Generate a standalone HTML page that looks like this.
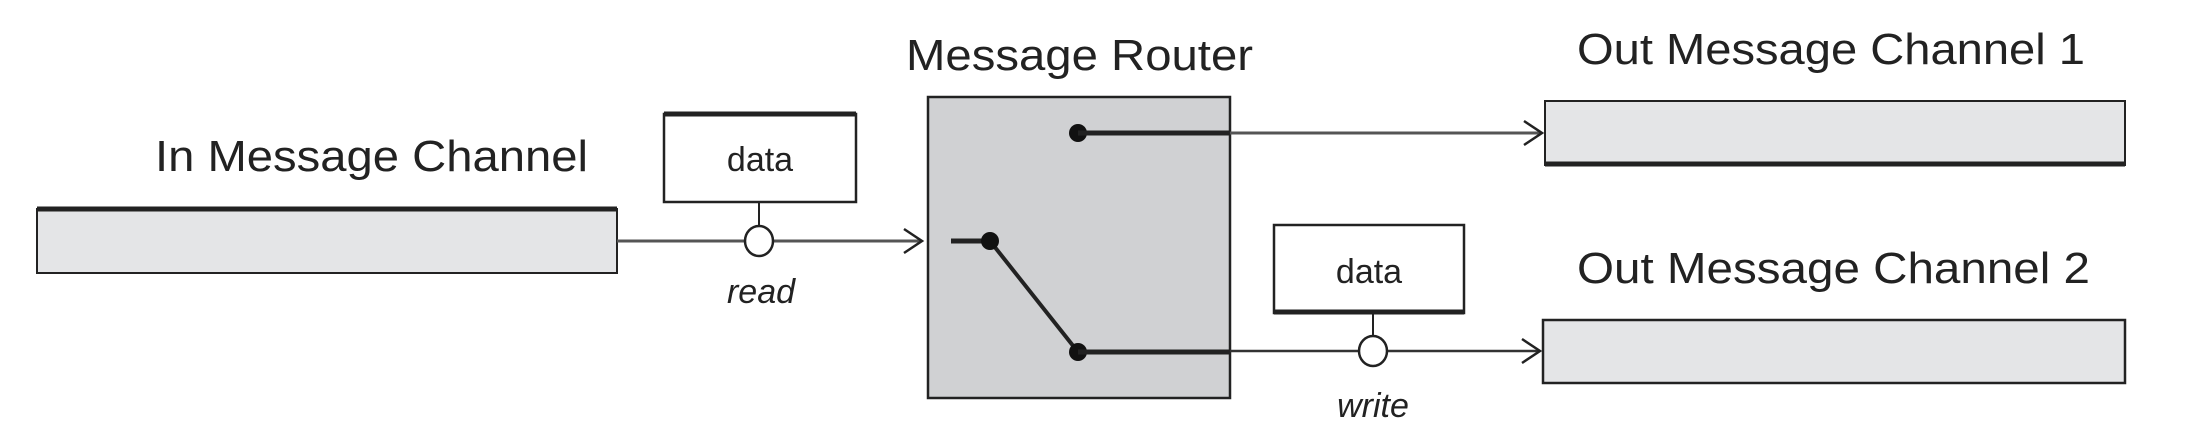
<!DOCTYPE html>
<html><head><meta charset="utf-8"><style>html,body{margin:0;padding:0;background:#fff}svg{display:block}</style></head>
<body>
<svg width="2210" height="440" viewBox="0 0 2210 440" xmlns="http://www.w3.org/2000/svg" font-family="Liberation Sans, sans-serif" fill="#222">
<!-- In channel -->
<rect x="37" y="209" width="580" height="64" fill="#e4e5e7" stroke="#222" stroke-width="2"/>
<line x1="37" y1="209" x2="617" y2="209" stroke="#222" stroke-width="5"/>
<text x="155" y="171" font-size="44" textLength="433" lengthAdjust="spacingAndGlyphs">In Message Channel</text>
<!-- data box 1 -->
<rect x="664" y="114" width="192" height="88" fill="#fff" stroke="#222" stroke-width="2.5"/>
<line x1="664" y1="114" x2="856" y2="114" stroke="#222" stroke-width="5"/>
<text x="760" y="171" font-size="34" text-anchor="middle">data</text>
<line x1="759" y1="202" x2="759" y2="226" stroke="#222" stroke-width="2"/>
<line x1="617" y1="241" x2="920" y2="241" stroke="#555" stroke-width="3"/>
<polyline points="904,229 922,241 904,253" fill="none" stroke="#222" stroke-width="2.5"/>
<ellipse cx="759" cy="241" rx="14" ry="15" fill="#fff" stroke="#222" stroke-width="2.5"/>
<text x="761" y="303" font-size="34" font-style="italic" text-anchor="middle">read</text>
<!-- router -->
<rect x="928" y="97" width="302" height="301" fill="#d0d1d3" stroke="#222" stroke-width="2.5"/>
<text x="906" y="70" font-size="44" textLength="347" lengthAdjust="spacingAndGlyphs">Message Router</text>
<line x1="951" y1="241" x2="990" y2="241" stroke="#222" stroke-width="5"/>
<line x1="990" y1="241" x2="1078" y2="352" stroke="#222" stroke-width="4"/>
<circle cx="990" cy="241" r="9" fill="#111"/>
<circle cx="1078" cy="352" r="9" fill="#111"/>
<circle cx="1078" cy="133" r="9" fill="#111"/>
<line x1="1078" y1="133" x2="1230" y2="133" stroke="#222" stroke-width="5"/>
<line x1="1078" y1="352" x2="1230" y2="352" stroke="#222" stroke-width="5"/>
<line x1="1230" y1="133" x2="1540" y2="133" stroke="#555" stroke-width="3"/>
<polyline points="1524,121 1542,133 1524,145" fill="none" stroke="#222" stroke-width="2.5"/>
<line x1="1230" y1="351" x2="1538" y2="351" stroke="#333" stroke-width="2.5"/>
<polyline points="1522,339 1540,351 1522,363" fill="none" stroke="#222" stroke-width="2.5"/>
<!-- data box 2 -->
<rect x="1274" y="225" width="190" height="88" fill="#fff" stroke="#222" stroke-width="2.5"/>
<line x1="1274" y1="312" x2="1464" y2="312" stroke="#222" stroke-width="5"/>
<text x="1369" y="283" font-size="34" text-anchor="middle">data</text>
<line x1="1373" y1="313" x2="1373" y2="336" stroke="#222" stroke-width="2"/>
<ellipse cx="1373" cy="351" rx="14" ry="15" fill="#fff" stroke="#222" stroke-width="2.5"/>
<text x="1373" y="417" font-size="34" font-style="italic" text-anchor="middle">write</text>
<!-- out channels -->
<rect x="1545" y="101" width="580" height="64" fill="#e4e5e7" stroke="#222" stroke-width="2"/>
<line x1="1545" y1="164" x2="2125" y2="164" stroke="#222" stroke-width="5"/>
<text x="1577" y="64" font-size="44" textLength="508" lengthAdjust="spacingAndGlyphs">Out Message Channel 1</text>
<rect x="1543" y="320" width="582" height="63" fill="#e4e5e7" stroke="#222" stroke-width="2.5"/>
<text x="1577" y="283" font-size="44" textLength="513" lengthAdjust="spacingAndGlyphs">Out Message Channel 2</text>
</svg>
</body></html>
